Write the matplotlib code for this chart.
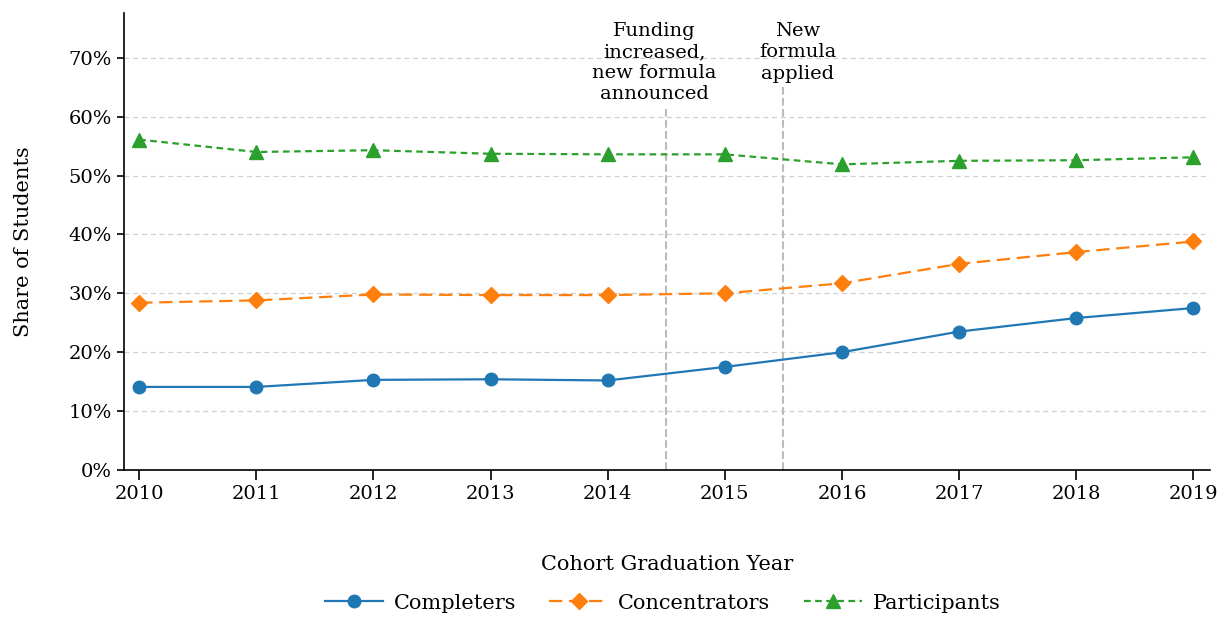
import matplotlib.pyplot as plt
import matplotlib.ticker as mtick

plt.rcParams['font.family'] = ['DejaVu Serif']

years = [2010, 2011, 2012, 2013, 2014, 2015, 2016, 2017, 2018, 2019]
completers = [14.1, 14.1, 15.3, 15.4, 15.2, 17.5, 20.0, 23.5, 25.8, 27.5]
concentrators = [28.4, 28.8, 29.8, 29.7, 29.7, 30.0, 31.7, 35.0, 37.0, 38.8]
participants = [56.1, 54.0, 54.3, 53.7, 53.6, 53.6, 51.9, 52.5, 52.6, 53.1]

events = [2014.5, 2015.5]
event_tops = [61.5, 65.0]
event_labels = ['Funding\nincreased,\nnew formula\nannounced', 'New\nformula\napplied']

fig = plt.figure(figsize=(12.27, 6.2), dpi=100)
ax = fig.add_axes([0.101, 0.242, 0.885, 0.737])

ax.plot(years, completers, '-', marker='o', color='#1f77b4', lw=1.6, ms=9, label='Completers')
ax.plot(years, concentrators, '--', marker='D', color='#ff7f0e', lw=1.6, ms=8.5,
        dashes=(6, 3), label='Concentrators')
ax.plot(years, participants, '--', marker='^', color='#2ca02c', lw=1.6, ms=10,
        dashes=(3, 2), label='Participants')

for x, top, lab, dx in zip(events, event_tops, event_labels, [-0.1, 0.12]):
    ax.plot([x, x], [0, top], '--', color='#bbbbbb', lw=1.5, zorder=1)
    ax.text(x + dx, top + 0.8, lab, ha='center', va='bottom',
            fontsize=14, linespacing=1.22)

ax.set_xlim(2009.87, 2019.14)
ax.set_ylim(0, 77.6)
ax.set_xticks(years)
ax.set_yticks(range(0, 71, 10))
ax.yaxis.set_major_formatter(mtick.FuncFormatter(lambda v, p: f'{v:.0f}%'))
ax.tick_params(labelsize=14)
ax.tick_params(axis='x', length=7, width=1.2)
ax.tick_params(axis='y', length=5, width=1.2)
ax.grid(axis='y', color='#d0d0d0', ls='--', lw=0.9, dashes=(4, 3))
ax.set_axisbelow(True)
for s in ['top', 'right']:
    ax.spines[s].set_visible(False)
for s in ['left', 'bottom']:
    ax.spines[s].set_linewidth(1.2)

ax.set_xlabel('Cohort Graduation Year', fontsize=15, labelpad=38)
ax.set_ylabel('Share of Students', fontsize=15, labelpad=26)

fig.legend(*ax.get_legend_handles_labels(), loc='center', bbox_to_anchor=(0.54, 0.027),
           ncol=3, frameon=False, fontsize=15, columnspacing=1.6, handlelength=2.8,
           handletextpad=0.5)

fig.savefig('out.png', dpi=100)
